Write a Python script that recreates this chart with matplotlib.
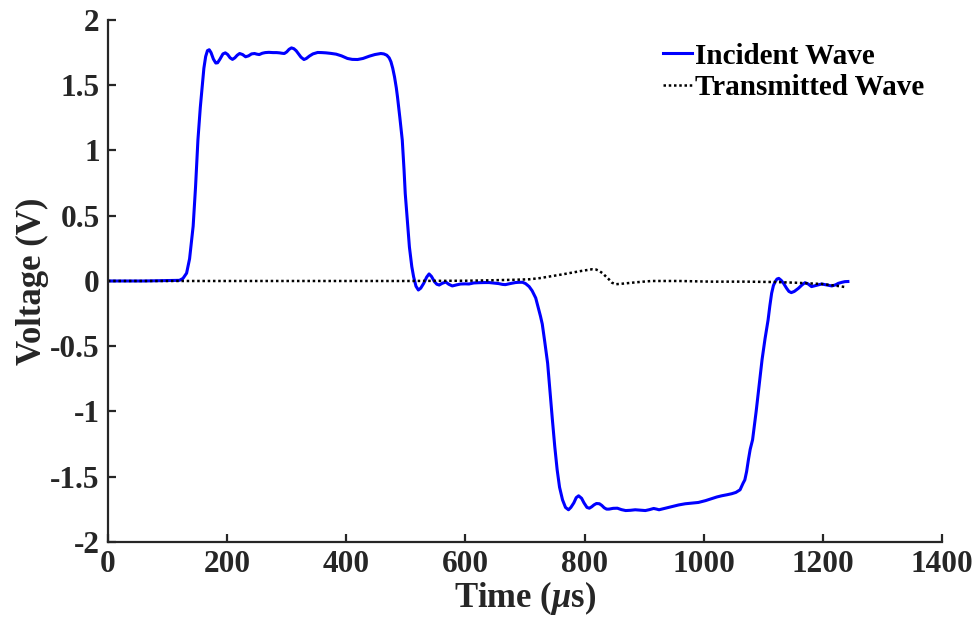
import matplotlib
matplotlib.use("Agg")
import matplotlib.pyplot as plt

# =========================
# Datos
# =========================
t_inc = [0, 60, 120, 126, 132, 137, 143, 147, 151, 155, 158.5, 161, 164, 167, 170,
         173, 177, 181, 184, 188, 193, 197, 201, 205, 209, 213, 217, 221, 226,
         231, 236, 241, 246, 250, 254, 259, 264, 270, 277, 283, 288, 292, 296,
         300, 304, 308, 312, 316, 320, 324, 329, 333, 338, 344, 352, 359, 366,
         374, 383, 392, 402, 410, 419, 428, 439, 448, 458, 463, 468, 472, 475,
         478, 481, 484, 486, 490, 494, 497, 499, 503, 506, 510, 513, 517, 521,
         525, 530, 535, 539, 543, 548, 552, 556, 561, 567, 572, 578, 585, 592,
         600, 606, 614, 623, 632, 640, 648, 656, 662, 667, 675, 684, 690, 696,
         701, 707, 712, 718, 722, 726, 729, 733, 738, 742, 746, 750, 754, 758,
         763, 768, 773, 777, 782, 786, 790, 795, 799, 804, 808, 812, 816, 820,
         825, 829, 833, 837, 841, 848, 855, 862, 869, 877, 885, 893, 902, 909,
         916, 921, 925, 935, 947, 958, 969, 980, 991, 1003, 1014, 1022, 1030,
         1039, 1047, 1054, 1061, 1066, 1069, 1072, 1075, 1078, 1082, 1088, 1093,
         1098, 1103, 1108, 1111, 1114, 1117, 1120, 1123, 1126, 1130, 1134, 1139,
         1143, 1147, 1152, 1159, 1165, 1170, 1175, 1181, 1188, 1198, 1206, 1215,
         1221, 1226, 1232, 1237, 1242]
v_inc = [0, 0, 0.005, 0.02, 0.06, 0.17, 0.42, 0.72, 1.08, 1.33, 1.51, 1.63, 1.72, 1.765, 1.772,
         1.75, 1.70, 1.67, 1.672, 1.70, 1.74, 1.748, 1.735, 1.71, 1.698, 1.71, 1.73, 1.743, 1.735,
         1.718, 1.725, 1.74, 1.743, 1.738, 1.735, 1.745, 1.75, 1.752, 1.75, 1.75, 1.748, 1.745, 1.743,
         1.755, 1.775, 1.786, 1.78, 1.764, 1.74, 1.715, 1.697, 1.705, 1.723, 1.74, 1.751, 1.75, 1.748,
         1.744, 1.738, 1.725, 1.705, 1.698, 1.697, 1.705, 1.723, 1.735, 1.743, 1.74, 1.73, 1.71, 1.68,
         1.63, 1.564, 1.48, 1.41, 1.25, 1.08, 0.85, 0.67, 0.44, 0.26, 0.11, 0.033, -0.04, -0.069,
         -0.055, -0.018, 0.03, 0.054, 0.035, -0.005, -0.025, -0.031, -0.018, -0.008, -0.025, -0.038, -0.03, -0.023,
         -0.022, -0.023, -0.015, -0.013, -0.012, -0.012, -0.016, -0.02, -0.026, -0.028, -0.02, -0.012, -0.01, -0.01,
         -0.02, -0.043, -0.075, -0.13, -0.2, -0.27, -0.33, -0.46, -0.63, -0.85, -1.064, -1.27, -1.447, -1.58,
         -1.677, -1.735, -1.753, -1.735, -1.70, -1.66, -1.646, -1.665, -1.70, -1.735, -1.741, -1.73, -1.715, -1.705,
         -1.707, -1.72, -1.738, -1.748, -1.748, -1.742, -1.741, -1.752, -1.759, -1.757, -1.753, -1.756, -1.759, -1.752,
         -1.743, -1.748, -1.753, -1.742, -1.728, -1.716, -1.707, -1.702, -1.697, -1.683, -1.667, -1.655, -1.646,
         -1.638, -1.63, -1.62, -1.60, -1.55, -1.524, -1.46, -1.37, -1.29, -1.217, -1.0, -0.8,
         -0.6, -0.44, -0.3, -0.19, -0.094, -0.035, -0.005, 0.015, 0.02, 0.005, -0.018, -0.055,
         -0.08, -0.089, -0.08, -0.056, -0.03, -0.013, -0.022, -0.043, -0.035, -0.023, -0.03, -0.038,
         -0.03, -0.018, -0.01, -0.005, -0.004]

t_tra = [0, 100, 200, 300, 400, 500, 600, 650, 680, 707, 725, 746, 762, 779, 796,
         813, 819, 824, 830, 835, 841, 846, 852, 865, 880, 896, 913, 958, 1014,
         1070, 1120, 1153, 1198, 1220, 1240]
v_tra = [0, 0, 0, 0, 0, 0, 0.002, 0.006, 0.009, 0.013, 0.022, 0.038, 0.05, 0.064, 0.078,
         0.09, 0.088, 0.079, 0.06, 0.038, 0.012, -0.013, -0.025, -0.02, -0.013, -0.006, 0, 0, -0.005,
         -0.005, -0.008, -0.013, -0.023, -0.035, -0.048]

x_ticks = [0, 200, 400, 600, 800, 1000, 1200, 1400]
y_ticks = [-2, -1.5, -1, -0.5, 0, 0.5, 1, 1.5, 2]
y_labels = ["-2", "-1.5", "-1", "-0.5", "0", "0.5", "1", "1.5", "2"]

# =========================
# Estilo
# =========================
plt.rcParams["font.family"] = ["Liberation Serif", "DejaVu Serif"]
plt.rcParams["font.weight"] = "bold"
plt.rcParams["mathtext.fontset"] = "custom"
plt.rcParams["mathtext.it"] = "Liberation Serif:italic:bold"
plt.rcParams["mathtext.rm"] = "Liberation Serif:bold"

axis_col = "#262626"

fig = plt.figure(figsize=(9.77, 6.24), dpi=100)
ax = fig.add_axes([0.1105, 0.1314, 0.8537, 0.8366])

ax.plot(t_inc, v_inc, color="#0000ff", lw=2.2, label="Incident Wave")
ax.plot(t_tra, v_tra, color="black", lw=1.8, linestyle=(0, (1, 1.1)),
        label="Transmitted Wave")

ax.set_xlim(0, 1400)
ax.set_ylim(-2, 2)
ax.set_xticks(x_ticks)
ax.set_yticks(y_ticks)
ax.set_yticklabels(y_labels)

for s in ["top", "right"]:
    ax.spines[s].set_visible(False)
for s in ["left", "bottom"]:
    ax.spines[s].set_color(axis_col)
    ax.spines[s].set_linewidth(1.6)

ax.tick_params(direction="in", length=6, width=1.6, color=axis_col,
               labelsize=22.5, labelcolor=axis_col, pad=6)
for lab in ax.get_xticklabels() + ax.get_yticklabels():
    lab.set_fontweight("bold")

ax.set_xlabel(r"Time ($\mu$s)", fontsize=25, fontweight="bold", color=axis_col, labelpad=0)
ax.set_ylabel("Voltage (V)", fontsize=25, fontweight="bold", color=axis_col, labelpad=1)

leg = ax.legend(loc="upper right", bbox_to_anchor=(1.0, 0.99), frameon=False,
                fontsize=21, handlelength=1.0, handletextpad=0.12,
                labelspacing=0.15, borderaxespad=0.2)
for txt in leg.get_texts():
    txt.set_fontweight("bold")

fig.savefig("out.png", dpi=100)
